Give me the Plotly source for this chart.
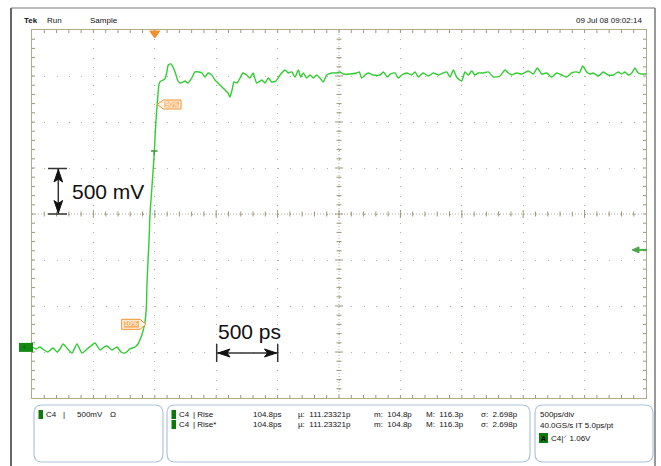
import plotly.graph_objects as go

# ---------------- data ----------------
time_ps = [-2500, -2467, -2435, -2402, -2370, -2329, -2296, -2272, -2248, -2215,
           -2174, -2134, -2093, -2052, -2020, -1987, -1946, -1914, -1889, -1849,
           -1808, -1775, -1743, -1702, -1661, -1637, -1612, -1596, -1580, -1568,
           -1564, -1555, -1547, -1539, -1525, -1512, -1504, -1498, -1490, -1480,
           -1471, -1463, -1450, -1431, -1417, -1403, -1390, -1368, -1352, -1335,
           -1311, -1295, -1270, -1254, -1230, -1199, -1173, -1140, -1116, -1091,
           -1067, -1037, -1010, -969, -928, -904, -888, -871, -855, -831,
           -806, -782, -752, -725, -700, -670, -629, -603, -576, -548,
           -513, -480, -440, -413, -385, -358, -331, -312, -291, -263,
           -236, -209, -182, -155, -128, -100, -59, -19, 8, 35,
           90, 144, 165, 185, 212, 239, 279, 334, 361, 393,
           421, 456, 483, 511, 551, 592, 619, 646, 686, 727,
           768, 809, 849, 877, 904, 931, 958, 999, 1026, 1053,
           1081, 1107, 1134, 1175, 1216, 1257, 1311, 1352, 1379, 1406,
           1447, 1488, 1542, 1582, 1615, 1651, 1691, 1732, 1773, 1814,
           1854, 1895, 1936, 1957, 1985, 2017, 2044, 2071, 2112, 2152,
           2193, 2234, 2274, 2302, 2329, 2356, 2384, 2410, 2437, 2465, 2500]
volts = [0.004, -0.017, 0.004, -0.028, -0.050, -0.007, -0.050, -0.017, 0.037, -0.007,
         -0.061, 0.037, -0.061, -0.017, 0.015, 0.048, -0.028, 0.004, 0.015, -0.028,
         0.004, -0.050, -0.061, -0.017, 0.004, 0.037, 0.113, 0.178, 0.276, 0.461,
         0.678, 0.950, 1.167, 1.450, 1.711, 1.961, 2.124, 2.287, 2.472, 2.657,
         2.798, 2.874, 2.896, 2.907, 2.918, 2.983, 3.070, 3.081, 3.048, 2.994,
         2.896, 2.874, 2.885, 2.896, 2.874, 2.928, 2.994, 2.994, 2.983, 2.939,
         2.983, 2.961, 2.907, 2.853, 2.798, 2.765, 2.722, 2.798, 2.885, 2.874,
         2.928, 2.983, 2.961, 2.928, 2.983, 2.874, 2.907, 2.874, 2.928, 2.885,
         2.896, 2.961, 3.015, 2.983, 2.994, 2.939, 3.015, 2.939, 2.983, 2.928,
         2.961, 2.928, 2.961, 2.928, 2.885, 2.961, 2.983, 2.983, 2.994, 2.972,
         2.972, 2.983, 2.994, 2.928, 2.961, 2.983, 2.961, 2.961, 2.994, 2.939,
         2.972, 2.983, 2.928, 2.961, 2.983, 2.961, 2.994, 2.939, 2.983, 2.950,
         2.983, 2.961, 2.983, 2.994, 2.939, 3.015, 2.939, 2.896, 2.994, 2.961,
         3.004, 2.961, 2.983, 2.983, 2.994, 2.939, 2.950, 3.015, 2.983, 2.961,
         2.983, 2.972, 3.004, 2.972, 3.037, 2.972, 2.983, 2.939, 2.983, 2.961,
         2.939, 2.983, 2.994, 2.983, 3.059, 2.994, 2.972, 2.983, 2.950, 2.994,
         2.961, 2.961, 2.994, 2.972, 2.994, 2.961, 2.983, 3.037, 2.983, 2.972, 2.972]

T_DIV_PS = 500          # 500 ps/div
V_DIV = 0.5             # 500 mV/div
T_CENTER = 0
V_CENTER = 1.45
TRIGGER_POS_PS = -1500
TRIGGER_LEVEL_V = 1.06
GROUND_V = 0.0

header_left = ["Tek", "Run", "Sample"]
header_date = "09 Jul 08 09:02:14"
meas_rows = [["C4", "Rise", "104.8ps", "111.23321p", "104.8p", "116.3p", "2.698p"],
             ["C4", "Rise*", "104.8ps", "111.23321p", "104.8p", "116.3p", "2.698p"]]

# ---------------- layout geometry ----------------
W, H = 661, 466
ML, MR, MT, MB = 32, 15, 30, 68
PW, PH = W - ML - MR, H - MT - MB
T_MIN, T_MAX = T_CENTER - 5 * T_DIV_PS, T_CENTER + 5 * T_DIV_PS
V_MIN, V_MAX = V_CENTER - 4 * V_DIV, V_CENTER + 4 * V_DIV
DT = (T_MAX - T_MIN) / PW      # ps per pixel
DV = (V_MAX - V_MIN) / PH      # V per pixel


def X(p):
    return (p - ML) / PW


def Y(p):
    return (H - MB - p) / PH


BORDER = "#b3aa88"
TICK = "#9d957a"
GRIDC = "#b5af9b"
ORANGE = "#f0902a"

fig = go.Figure()
fig.add_trace(go.Scatter(x=time_ps, y=volts, mode="lines",
                         line=dict(color="#33cc33", width=1.4, shape="spline", smoothing=0.6),
                         hoverinfo="skip", showlegend=False))

shapes = []
annos = []

# minor positions
minor_t = [T_MIN + k * T_DIV_PS / 5 for k in range(51)]
minor_v = [V_MIN + k * V_DIV / 5 for k in range(41)]

# border ticks
p = "".join(f"M{t},1L{t},{1 - 3 / PH}" for t in minor_t[1:-1])
shapes.append(dict(type="path", xref="x", yref="paper", path=p, line=dict(color=TICK, width=1)))
p = "".join(f"M{t},0L{t},{3 / PH}" for t in minor_t[1:-1])
shapes.append(dict(type="path", xref="x", yref="paper", path=p, line=dict(color=TICK, width=1)))
p = "".join(f"M0,{v}L{3 / PW},{v}" for v in minor_v[1:-1])
shapes.append(dict(type="path", xref="paper", yref="y", path=p, line=dict(color=TICK, width=1)))
p = "".join(f"M1,{v}L{1 - 3 / PW},{v}" for v in minor_v[1:-1])
shapes.append(dict(type="path", xref="paper", yref="y", path=p, line=dict(color=TICK, width=1)))

# centre cross
shapes.append(dict(type="line", xref="x", yref="y", x0=T_MIN, x1=T_MAX, y0=V_CENTER, y1=V_CENTER,
                   line=dict(color=GRIDC, width=1, dash="1px,2px")))
shapes.append(dict(type="line", xref="x", yref="y", x0=T_CENTER, x1=T_CENTER, y0=V_MIN, y1=V_MAX,
                   line=dict(color=GRIDC, width=1, dash="1px,2px")))
segs = []
for k, t in enumerate(minor_t[1:-1], start=1):
    L = 4 if k % 5 == 0 else 2.5
    segs.append(f"M{t},{V_CENTER - L * DV}L{t},{V_CENTER + L * DV}")
shapes.append(dict(type="path", xref="x", yref="y", path="".join(segs), line=dict(color=TICK, width=1)))
segs = []
for k, v in enumerate(minor_v[1:-1], start=1):
    L = 4 if k % 5 == 0 else 2.5
    segs.append(f"M{T_CENTER - L * DT},{v}L{T_CENTER + L * DT},{v}")
shapes.append(dict(type="path", xref="x", yref="y", path="".join(segs), line=dict(color=TICK, width=1)))

# outer frame
shapes.append(dict(type="line", xref="paper", yref="paper", x0=X(11), x1=X(11), y0=Y(8), y1=Y(470),
                   line=dict(color="#666666", width=2)))
shapes.append(dict(type="line", xref="paper", yref="paper", x0=X(11), x1=X(655), y0=Y(8), y1=Y(8),
                   line=dict(color="#777777", width=1)))
shapes.append(dict(type="line", xref="paper", yref="paper", x0=X(655), x1=X(655), y0=Y(8), y1=Y(470),
                   line=dict(color="#777777", width=1.5)))

# trigger position marker (top)
tp = TRIGGER_POS_PS
shapes.append(dict(type="path", xref="x", yref="paper",
                   path=f"M{tp - 5 * DT},{Y(31)}L{tp + 5 * DT},{Y(31)}L{tp},{Y(38)}Z",
                   fillcolor=ORANGE, line=dict(color=ORANGE, width=1)))

# trigger level arrow (right)
tl = TRIGGER_LEVEL_V
shapes.append(dict(type="path", xref="paper", yref="y",
                   path=f"M{X(632)},{tl}L{X(639)},{tl + 3 * DV}L{X(639)},{tl - 3 * DV}Z",
                   fillcolor="#4aa84a", line=dict(color="#4aa84a", width=1)))
shapes.append(dict(type="line", xref="paper", yref="y", x0=X(638), x1=X(647), y0=tl, y1=tl,
                   line=dict(color="#4aa84a", width=2)))

# ground marker (left)
g = GROUND_V
shapes.append(dict(type="rect", xref="paper", yref="y", x0=X(19), x1=X(33), y0=g - 4.5 * DV, y1=g + 4.5 * DV,
                   fillcolor="#138a13", line=dict(width=0)))
annos.append(dict(xref="paper", yref="y", x=X(24), y=g, text="4", showarrow=False,
                  font=dict(family="Liberation Sans", size=5, color="#0b5e0b"), xanchor="center", yanchor="middle"))

# 90% / 10% flags
def flag(x0, x1, yc, h, tip_left, label):
    hh = h / 2
    if tip_left:
        pth = f"M{X(x0)},{Y(yc)}L{X(x0 + 6)},{Y(yc - hh)}L{X(x1)},{Y(yc - hh)}L{X(x1)},{Y(yc + hh)}L{X(x0 + 6)},{Y(yc + hh)}Z"
        ix0, ix1 = x0 + 7, x1 - 2
    else:
        pth = f"M{X(x1)},{Y(yc)}L{X(x1 - 6)},{Y(yc - hh)}L{X(x0)},{Y(yc - hh)}L{X(x0)},{Y(yc + hh)}L{X(x1 - 6)},{Y(yc + hh)}Z"
        ix0, ix1 = x0 + 2, x1 - 7
    shapes.append(dict(type="path", xref="paper", yref="paper", path=pth,
                       fillcolor="#fff4e8", line=dict(color=ORANGE, width=1)))
    shapes.append(dict(type="rect", xref="paper", yref="paper", x0=X(ix0), x1=X(ix1),
                       y0=Y(yc - hh + 1.5), y1=Y(yc + hh - 1.5), fillcolor="#f7b36a", line=dict(width=0)))
    annos.append(dict(xref="paper", yref="paper", x=X((ix0 + ix1) / 2), y=Y(yc), text=label,
                      showarrow=False, font=dict(family="DejaVu Sans Condensed", size=7, color="#ffffff"),
                      xanchor="center", yanchor="middle"))

flag(157.3, 181, 104.5, 9, True, "90%")
flag(121.7, 146, 324.3, 10, False, "10%")

# small green cursor mark on the edge
shapes.append(dict(type="path", xref="paper", yref="paper",
                   path=f"M{X(151)},{Y(151)}L{X(157.5)},{Y(151)}M{X(154.3)},{Y(151)}L{X(154.3)},{Y(155)}",
                   line=dict(color="#3a9a3a", width=1.5)))

# 500 mV scale annotation
K = "#111111"
shapes.append(dict(type="line", xref="paper", yref="paper", x0=X(58.3), x1=X(58.3), y0=Y(169), y1=Y(214),
                   line=dict(color="#333333", width=1.5)))
for yy in (168.5, 214):
    shapes.append(dict(type="line", xref="paper", yref="paper", x0=X(48), x1=X(67), y0=Y(yy), y1=Y(yy),
                       line=dict(color="#333333", width=1.5)))
shapes.append(dict(type="path", xref="paper", yref="paper",
                   path=f"M{X(58.3)},{Y(169.5)}L{X(54)},{Y(182)}L{X(58.3)},{Y(179)}L{X(62.6)},{Y(182)}Z",
                   fillcolor=K, line=dict(color=K, width=1)))
shapes.append(dict(type="path", xref="paper", yref="paper",
                   path=f"M{X(58.3)},{Y(213)}L{X(54)},{Y(200.5)}L{X(58.3)},{Y(203.5)}L{X(62.6)},{Y(200.5)}Z",
                   fillcolor=K, line=dict(color=K, width=1)))
annos.append(dict(xref="paper", yref="paper", x=X(70), y=Y(191), text="500 mV", showarrow=False,
                  font=dict(family="Liberation Sans", size=21, color=K), xanchor="left", yanchor="middle"))

# 500 ps scale annotation
shapes.append(dict(type="line", xref="paper", yref="paper", x0=X(217), x1=X(277.5), y0=Y(353), y1=Y(353),
                   line=dict(color="#333333", width=1.5)))
for xx in (216.7, 277.7):
    shapes.append(dict(type="line", xref="paper", yref="paper", x0=X(xx), x1=X(xx), y0=Y(344), y1=Y(362),
                       line=dict(color="#333333", width=1.5)))
shapes.append(dict(type="path", xref="paper", yref="paper",
                   path=f"M{X(218)},{Y(353)}L{X(230)},{Y(349)}L{X(227)},{Y(353)}L{X(230)},{Y(357)}Z",
                   fillcolor=K, line=dict(color=K, width=1)))
shapes.append(dict(type="path", xref="paper", yref="paper",
                   path=f"M{X(276.5)},{Y(353)}L{X(264.5)},{Y(349)}L{X(267.5)},{Y(353)}L{X(264.5)},{Y(357)}Z",
                   fillcolor=K, line=dict(color=K, width=1)))
annos.append(dict(xref="paper", yref="paper", x=X(216), y=Y(331), text="500 ps", showarrow=False,
                  font=dict(family="Liberation Sans", size=21, color=K), xanchor="left", yanchor="middle"))

# header
SF = dict(family="Liberation Sans", size=8, color="#111111")
annos.append(dict(xref="paper", yref="paper", x=X(22), y=Y(20.5), text="<b>" + header_left[0] + "</b>",
                  showarrow=False, font=SF, xanchor="left", yanchor="middle"))
annos.append(dict(xref="paper", yref="paper", x=X(45), y=Y(20.5), text=header_left[1],
                  showarrow=False, font=SF, xanchor="left", yanchor="middle"))
annos.append(dict(xref="paper", yref="paper", x=X(88), y=Y(20.5), text=header_left[2],
                  showarrow=False, font=SF, xanchor="left", yanchor="middle"))
annos.append(dict(xref="paper", yref="paper", x=X(644), y=Y(20.5), text=header_date,
                  showarrow=False, font=SF, xanchor="right", yanchor="middle"))

# bottom panels
def rbox(x0, x1, y0, y1, r=8):
    pth = (f"M{X(x0 + r)},{Y(y0)}L{X(x1 - r)},{Y(y0)}Q{X(x1)},{Y(y0)} {X(x1)},{Y(y0 + r)}"
           f"L{X(x1)},{Y(y1 - r)}Q{X(x1)},{Y(y1)} {X(x1 - r)},{Y(y1)}"
           f"L{X(x0 + r)},{Y(y1)}Q{X(x0)},{Y(y1)} {X(x0)},{Y(y1 - r)}"
           f"L{X(x0)},{Y(y0 + r)}Q{X(x0)},{Y(y0)} {X(x0 + r)},{Y(y0)}Z")
    shapes.append(dict(type="path", xref="paper", yref="paper", path=pth,
                       line=dict(color="#aec4da", width=1.2)))

rbox(34, 163, 405, 462)
rbox(167, 530, 405, 462)
rbox(535, 653, 405, 462)

GREEN_SQ = "#0b7a0b"

def gsq(x, yc, w=4.5, h=9):
    shapes.append(dict(type="rect", xref="paper", yref="paper", x0=X(x), x1=X(x + w),
                       y0=Y(yc - h / 2), y1=Y(yc + h / 2), fillcolor=GREEN_SQ, line=dict(width=0)))

def txt(x, y, s, anchor="left"):
    annos.append(dict(xref="paper", yref="paper", x=X(x), y=Y(y), text=s, showarrow=False,
                      font=SF, xanchor=anchor, yanchor="middle"))

gsq(38.5, 414.5)
txt(44, 414.5, "C4")
txt(61, 414.5, "|")
txt(75, 414.5, "500mV")
txt(108, 414.5, "Ω")

for i, row in enumerate(meas_rows):
    yy = 414.5 + i * 10
    gsq(171.5, yy)
    txt(177, yy, row[0])
    txt(191, yy, "| " + row[1])
    txt(251, yy, row[2])
    txt(296, yy, "µ:  " + row[3])
    txt(372, yy, "m:  " + row[4])
    txt(424, yy, "M:  " + row[5])
    txt(479, yy, "σ:  " + row[6])

txt(538, 414.5, "500ps/div")
txt(538, 425, "40.0GS/s IT 5.0ps/pt")
shapes.append(dict(type="rect", xref="paper", yref="paper", x0=X(539), x1=X(548),
                   y0=Y(443), y1=Y(433), fillcolor=GREEN_SQ, line=dict(width=0)))
annos.append(dict(xref="paper", yref="paper", x=X(543.5), y=Y(438), text="<b>A</b>", showarrow=False,
                  font=dict(family="Liberation Sans", size=7, color="#000000"), xanchor="center", yanchor="middle"))
txt(549, 438, "C4|⸍ " + f"{TRIGGER_LEVEL_V:.2f}V")

fig.update_layout(
    width=W, height=H,
    margin=dict(l=ML, r=MR, t=MT, b=MB),
    paper_bgcolor="white", plot_bgcolor="white",
    shapes=shapes, annotations=annos,
    showlegend=False,
    xaxis=dict(range=[T_MIN, T_MAX], tick0=T_MIN, dtick=T_DIV_PS, showticklabels=False, ticks="",
               showgrid=True, gridcolor=GRIDC, gridwidth=1, griddash=f"1px,{PH / 40 - 1:.2f}px",
               zeroline=False, showline=True, mirror=True, linecolor=BORDER, linewidth=1.2, fixedrange=True),
    yaxis=dict(range=[V_MIN, V_MAX], tick0=V_MIN, dtick=V_DIV, showticklabels=False, ticks="",
               showgrid=True, gridcolor=GRIDC, gridwidth=1, griddash=f"1px,{PW / 50 - 1:.2f}px",
               zeroline=False, showline=True, mirror=True, linecolor=BORDER, linewidth=1.2, fixedrange=True),
)

fig.write_html("out.html")
